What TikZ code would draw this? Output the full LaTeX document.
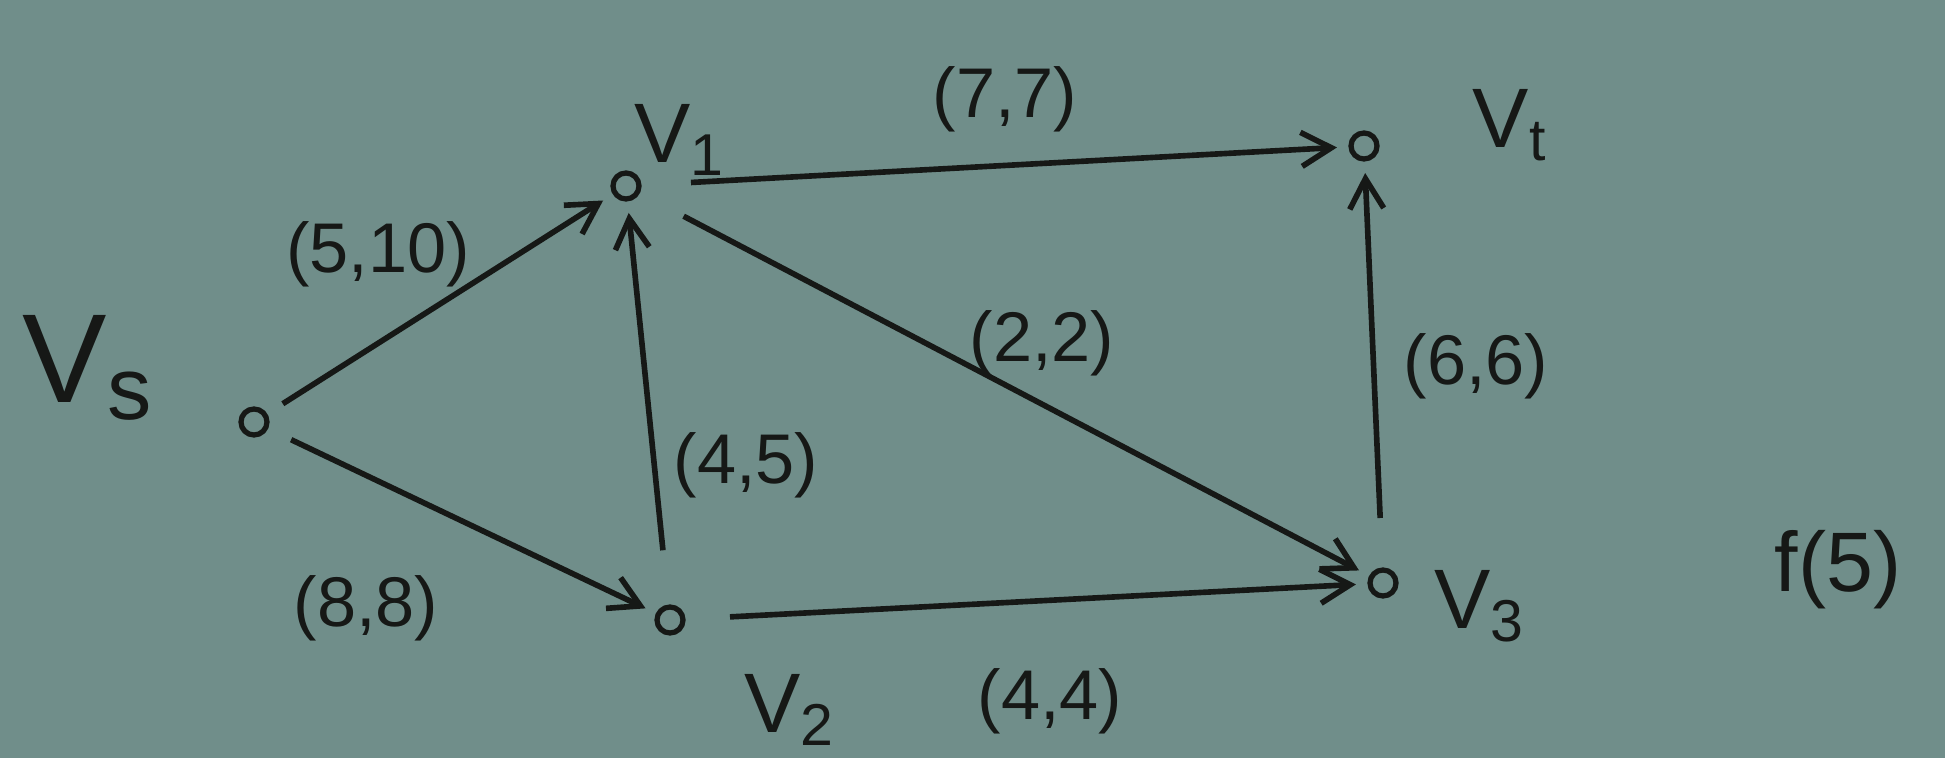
\documentclass[tikz,border=0pt]{standalone}
\usepackage{fontspec}
\setmainfont{Liberation Sans}
\usetikzlibrary{arrows.meta}
\definecolor{board}{RGB}{112,142,138}
\definecolor{ink}{RGB}{22,24,22}
\begin{document}
\begin{tikzpicture}[x=0.01cm,y=-0.01cm,
  vtx/.style={circle,draw=ink,line width=1.5pt,minimum size=0.26cm,inner sep=0pt,outer sep=2pt},
  vlab/.style={text=ink,font=\fontsize{24}{28}\selectfont},
  elab/.style={text=ink,font=\fontsize{20}{24}\selectfont},
  arc/.style={draw=ink,line width=1.6pt,-{Straight Barb[length=0.3cm,width=0.34cm,line width=1.6pt]},shorten >=2pt}]
\fill[board] (0,0) rectangle (1945,758);
\useasboundingbox (0,0) rectangle (1945,758);
% vertices
\node[vtx] (vs) at (254,422) {};
\node[vtx] (v1) at (626,186) {};
\node[vtx] (v2) at (670,620) {};
\node[vtx] (v3) at (1383,583) {};
\node[vtx] (vt) at (1364,146) {};
% vertex labels
\node[vlab,font=\fontsize{36}{40}\selectfont] (lvs) at (88,368) {V\textsubscript{s}};
\node[vlab] (lv1) at (680,140) {V\textsubscript{1}};
\node[vlab] (lvt) at (1510,125) {V\textsubscript{t}};
\node[vlab] (lv3) at (1480,606) {V\textsubscript{3}};
\node[vlab] (lv2) at (790,710) {V\textsubscript{2}};
\node[vlab] (lf) at (1838,570) {f(5)};
% arcs
\draw[arc,shorten <=4pt] (vs) -- (v1);
\draw[arc,shorten <=6pt] (vs) -- (v2);
\draw[arc,shorten <=0.5cm] (v2) -- (v1);
\draw[arc,shorten <=0.45cm] (v1) -- (vt);
\draw[arc,shorten <=0.45cm] (v1) -- (v3);
\draw[arc,shorten <=0.4cm] (v2) -- (v3);
\draw[arc,shorten <=0.45cm] (v3) -- (vt);
% arc labels
\node[elab] (e1) at (378,254) {(5,10)};
\node[elab] (e2) at (366,608) {(8,8)};
\node[elab] (e3) at (746,465) {(4,5)};
\node[elab] (e4) at (1005,99) {(7,7)};
\node[elab] (e5) at (1042,343) {(2,2)};
\node[elab] (e6) at (1476,366) {(6,6)};
\node[elab] (e7) at (1050,701) {(4,4)};
\end{tikzpicture}
\end{document}
